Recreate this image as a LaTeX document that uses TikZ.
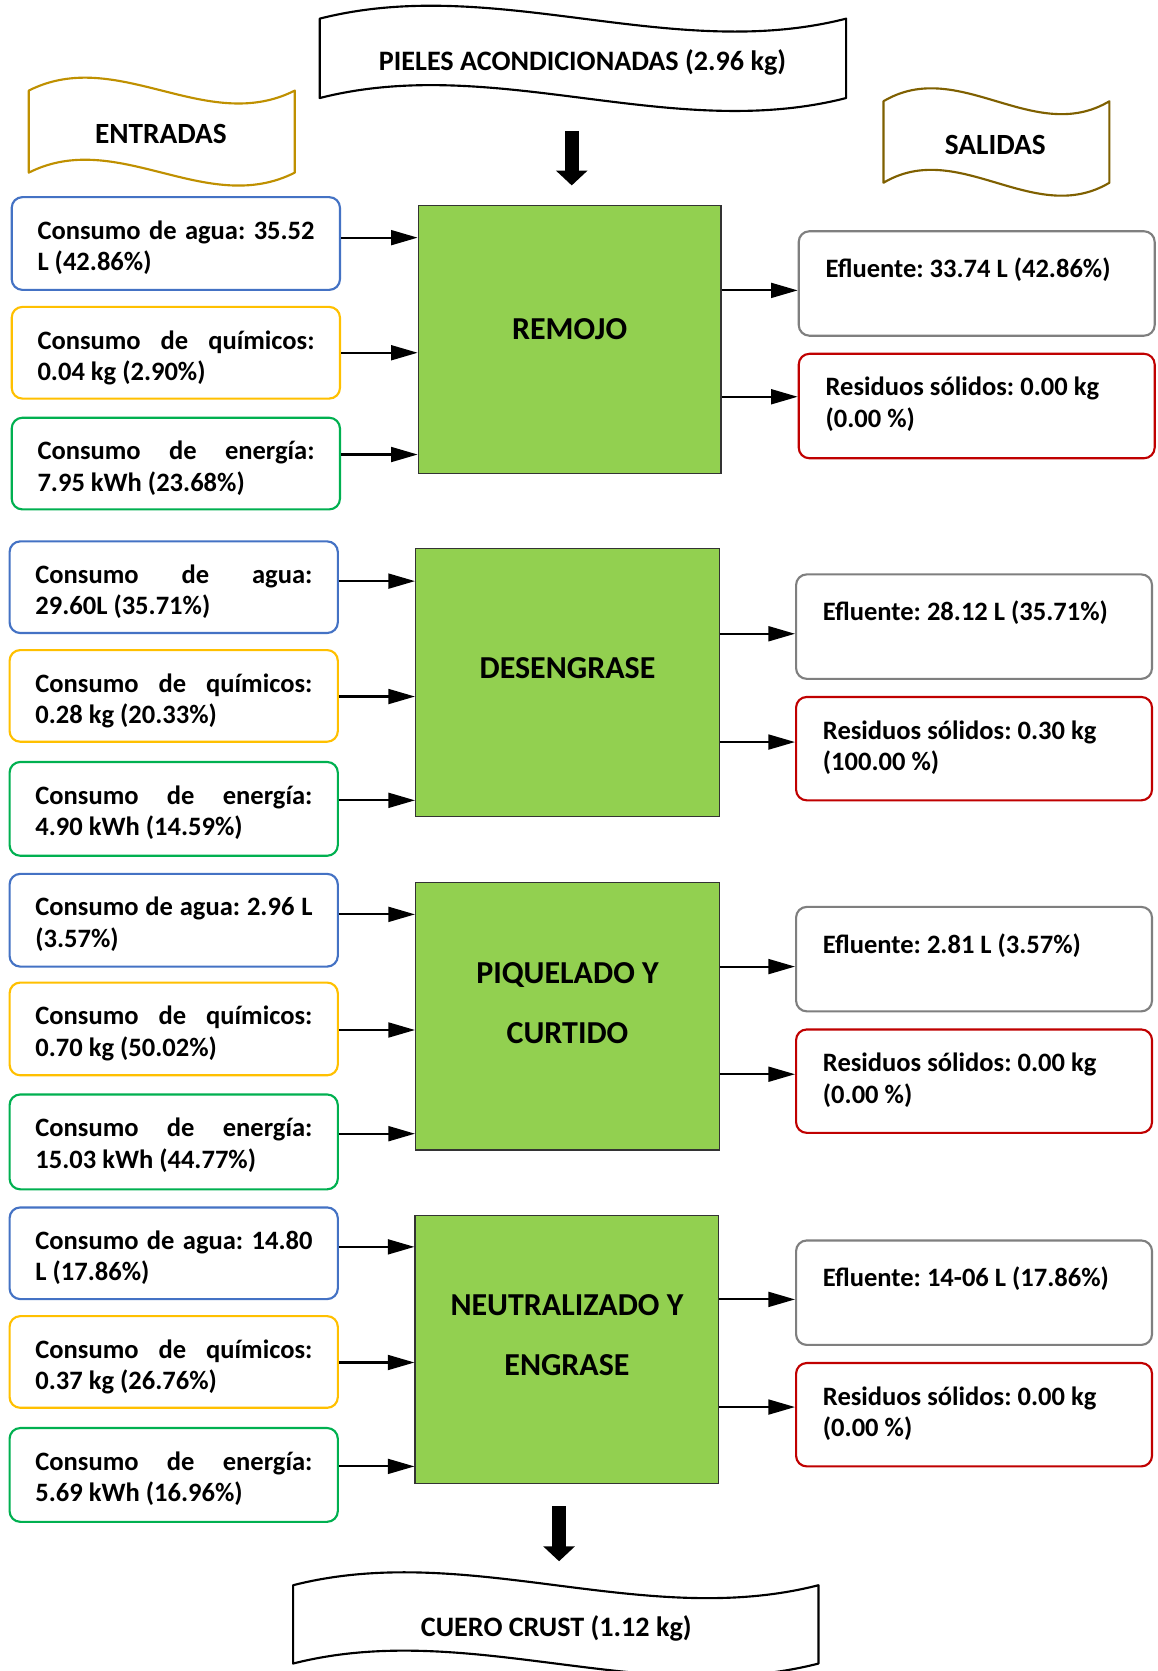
\documentclass[tikz,border=0pt]{standalone}
\usepackage{fontspec}
\setmainfont{Carlito}
\usetikzlibrary{arrows.meta}
\frenchspacing
\definecolor{cblue}{HTML}{4472C4}
\definecolor{cyellow}{HTML}{FFC000}
\definecolor{cgreen}{HTML}{00B050}
\definecolor{cgray}{HTML}{7F7F7F}
\definecolor{cred}{HTML}{C00000}
\definecolor{pfill}{HTML}{92D050}
\definecolor{entcol}{HTML}{BF9000}
\definecolor{salcol}{HTML}{7F6000}
\newcommand\smallsz{\fontsize{24.9}{29.5}\selectfont\bfseries}
\newcommand\bansz{\fontsize{26.4}{30}\selectfont\bfseries}
\newcommand\banszb{\fontsize{27.5}{30}\selectfont\bfseries}
\newcommand\bigsz{\fontsize{30}{56}\selectfont\bfseries}
\newcommand\jl[1]{\makebox[260pt][s]{#1}}
% box: style, x1, y1, x2, y2, name
\newcommand\bx[6]{\node[#1, minimum width={#4-#2}, minimum height={#5-#3}] (#6) at ({(#2+#4)/2},{(#3+#5)/2}) {};}
% wave banner: style, x1, y1, x2, y2, k
\newcommand\wavebanner[6]{\draw[#1] (#2,#3) .. controls ({#2+(#4-#2)/3},{#3-#6}) and ({#2+2*(#4-#2)/3},{#3+#6}) .. (#4,#3) -- (#4,#5) .. controls ({#2+2*(#4-#2)/3},{#5+#6}) and ({#2+(#4-#2)/3},{#5-#6}) .. (#2,#5) -- cycle;}
\tikzset{
  rbox/.style={draw, rounded corners=10pt, line width=2pt, fill=white, inner sep=0pt},
  proc/.style={draw=black!80, fill=pfill, line width=1.2pt, inner sep=0pt},
  txt/.style={font=\smallsz, inner sep=0pt, align=left},
  btxt/.style={inner sep=0pt, anchor=base},
  ptxt/.style={font=\bigsz, inner sep=0pt, align=center},
  arr/.style={line width=2pt, -{Triangle[length=25pt,width=14pt]}},
  blockarr/.style={line width=13.5pt, -{Triangle[length=14pt,width=29pt]}},
  banner/.style={line width=2pt, fill=white, line join=round},
}
\begin{document}
\begin{tikzpicture}[x=1pt,y=-1pt]
\useasboundingbox (0,0) rectangle (1086,1568);
\fill[white] (0,0) rectangle (1086,1568);

% ---- banners
\wavebanner{banner, draw=black}{300}{17.5}{794}{92}{42}
\node[btxt, font=\bansz] (pieles) at (546.6,65.7) {PIELES ACONDICIONADAS (2.96 kg)};
\wavebanner{banner, draw=entcol}{27}{85}{276.6}{162}{42}
\node[btxt, font=\banszb] (entradas) at (151,134.5) {ENTRADAS};
\wavebanner{banner, draw=salcol}{829}{95}{1041}{171.5}{42}
\node[btxt, font=\banszb] (salidas) at (934,144.6) {SALIDAS};
\wavebanner{banner, draw=black}{275}{1487.5}{768}{1561}{42}
\node[btxt, font=\bansz] (cuero) at (522,1535.3) {CUERO CRUST (1.12 kg)};

\coordinate (ta1) at (536.5,122.7);
\coordinate (ta2) at (536.5,174);
\draw[blockarr] (ta1) -- (ta2);
\coordinate (ba1) at (524.6,1413.5);
\coordinate (ba2) at (524.6,1465);
\draw[blockarr] (ba1) -- (ba2);

% ---- group 1 : REMOJO
\bx{rbox, draw=cblue}{11}{185}{319}{272}{a1}
\bx{rbox, draw=cyellow}{11}{288}{319}{374}{b1}
\bx{rbox, draw=cgreen}{11}{392}{319}{478}{c1}
\bx{proc}{392.5}{193}{676.5}{444}{p1}
\bx{rbox, draw=cgray}{749.5}{217}{1083.5}{315}{e1}
\bx{rbox, draw=cred}{749.5}{332}{1083.5}{430}{r1}
\node[txt, anchor=base west] (a1t) at (35,254) {\jl{Consumo de agua: 35.52}\\L (42.86\%)};
\node[txt, anchor=base west] (b1t) at (35,357) {\jl{Consumo de químicos:}\\0.04 kg (2.90\%)};
\node[txt, anchor=base west] (c1t) at (35,461) {\jl{Consumo de energía:}\\7.95 kWh (23.68\%)};
\node[ptxt, anchor=base] (p1t) at (534.5,319) {REMOJO};
\node[txt, anchor=base west] (e1t) at (774.5,260.5) {Efluente: 33.74 L (42.86\%)};
\node[txt, anchor=base west] (r1t) at (774.5,401) {Residuos sólidos: 0.00 kg\\(0.00 \%)};
\draw[arr] (a1.east |- 0,223) -- (p1.west |- 0,223);
\draw[arr] (b1.east |- 0,331) -- (p1.west |- 0,331);
\draw[arr] (c1.east |- 0,426.5) -- (p1.west |- 0,426.5);
\draw[arr] (p1.east |- 0,272.5) -- (e1.west |- 0,272.5);
\draw[arr] (p1.east |- 0,372.3) -- (r1.west |- 0,372.3);

% ---- group 2 : DESENGRASE
\bx{rbox, draw=cblue}{9}{508}{317}{594}{a2}
\bx{rbox, draw=cyellow}{9}{610}{317}{696}{b2}
\bx{rbox, draw=cgreen}{9}{715}{317}{803}{c2}
\bx{proc}{390}{514.5}{675}{766}{p2}
\bx{rbox, draw=cgray}{747}{539}{1081}{637}{e2}
\bx{rbox, draw=cred}{747}{654}{1081}{751}{r2}
\node[txt, anchor=base west] (a2t) at (33,577) {\jl{Consumo de agua:}\\29.60L (35.71\%)};
\node[txt, anchor=base west] (b2t) at (33,679) {\jl{Consumo de químicos:}\\0.28 kg (20.33\%)};
\node[txt, anchor=base west] (c2t) at (33,784) {\jl{Consumo de energía:}\\4.90 kWh (14.59\%)};
\node[ptxt, anchor=base] (p2t) at (532.5,637) {DESENGRASE};
\node[txt, anchor=base west] (e2t) at (772,582.5) {Efluente: 28.12 L (35.71\%)};
\node[txt, anchor=base west] (r2t) at (772,723) {Residuos sólidos: 0.30 kg\\(100.00 \%)};
\draw[arr] (a2.east |- 0,545.3) -- (p2.west |- 0,545.3);
\draw[arr] (b2.east |- 0,653.6) -- (p2.west |- 0,653.6);
\draw[arr] (c2.east |- 0,751) -- (p2.west |- 0,751);
\draw[arr] (p2.east |- 0,594.7) -- (e2.west |- 0,594.7);
\draw[arr] (p2.east |- 0,696.3) -- (r2.west |- 0,696.3);

% ---- group 3 : PIQUELADO Y CURTIDO
\bx{rbox, draw=cblue}{9}{820}{317}{907}{a3}
\bx{rbox, draw=cyellow}{9}{922}{317}{1009}{b3}
\bx{rbox, draw=cgreen}{9}{1027}{317}{1116}{c3}
\bx{proc}{390}{828}{675}{1079}{p3}
\bx{rbox, draw=cgray}{747}{851}{1081}{949}{e3}
\bx{rbox, draw=cred}{747}{966}{1081}{1063}{r3}
\node[txt, anchor=base west] (a3t) at (33,889) {\jl{Consumo de agua: 2.96 L}\\(3.57\%)};
\node[txt, anchor=base west] (b3t) at (33,991) {\jl{Consumo de químicos:}\\0.70 kg (50.02\%)};
\node[txt, anchor=base west] (c3t) at (33,1096) {\jl{Consumo de energía:}\\15.03 kWh (44.77\%)};
\node[ptxt, anchor=base] (p3t) at (532.5,979) {PIQUELADO Y\\CURTIDO};
\node[txt, anchor=base west] (e3t) at (772,894.5) {Efluente: 2.81 L (3.57\%)};
\node[txt, anchor=base west] (r3t) at (772,1035) {Residuos sólidos: 0.00 kg\\(0.00 \%)};
\draw[arr] (a3.east |- 0,858) -- (p3.west |- 0,858);
\draw[arr] (b3.east |- 0,966.5) -- (p3.west |- 0,966.5);
\draw[arr] (c3.east |- 0,1063.8) -- (p3.west |- 0,1063.8);
\draw[arr] (p3.east |- 0,907) -- (e3.west |- 0,907);
\draw[arr] (p3.east |- 0,1008) -- (r3.west |- 0,1008);

% ---- group 4 : NEUTRALIZADO Y ENGRASE
\bx{rbox, draw=cblue}{9}{1133}{317}{1219}{a4}
\bx{rbox, draw=cyellow}{9}{1235}{317}{1321}{b4}
\bx{rbox, draw=cgreen}{9}{1340}{317}{1428}{c4}
\bx{proc}{389.5}{1140.4}{674.5}{1392}{p4}
\bx{rbox, draw=cgray}{747}{1164}{1081}{1262}{e4}
\bx{rbox, draw=cred}{747}{1279}{1081}{1376}{r4}
\node[txt, anchor=base west] (a4t) at (33,1202) {\jl{Consumo de agua: 14.80}\\L (17.86\%)};
\node[txt, anchor=base west] (b4t) at (33,1304) {\jl{Consumo de químicos:}\\0.37 kg (26.76\%)};
\node[txt, anchor=base west] (c4t) at (33,1409) {\jl{Consumo de energía:}\\5.69 kWh (16.96\%)};
\node[ptxt, anchor=base] (p4t) at (532,1290.6) {NEUTRALIZADO Y\\ENGRASE};
\node[txt, anchor=base west] (e4t) at (772,1207) {Efluente: 14-06 L (17.86\%)};
\node[txt, anchor=base west] (r4t) at (772,1348) {Residuos sólidos: 0.00 kg\\(0.00 \%)};
\draw[arr] (a4.east |- 0,1170) -- (p4.west |- 0,1170);
\draw[arr] (b4.east |- 0,1278.5) -- (p4.west |- 0,1278.5);
\draw[arr] (c4.east |- 0,1376) -- (p4.west |- 0,1376);
\draw[arr] (p4.east |- 0,1219.3) -- (e4.west |- 0,1219.3);
\draw[arr] (p4.east |- 0,1320.3) -- (r4.west |- 0,1320.3);
\end{tikzpicture}
\end{document}
